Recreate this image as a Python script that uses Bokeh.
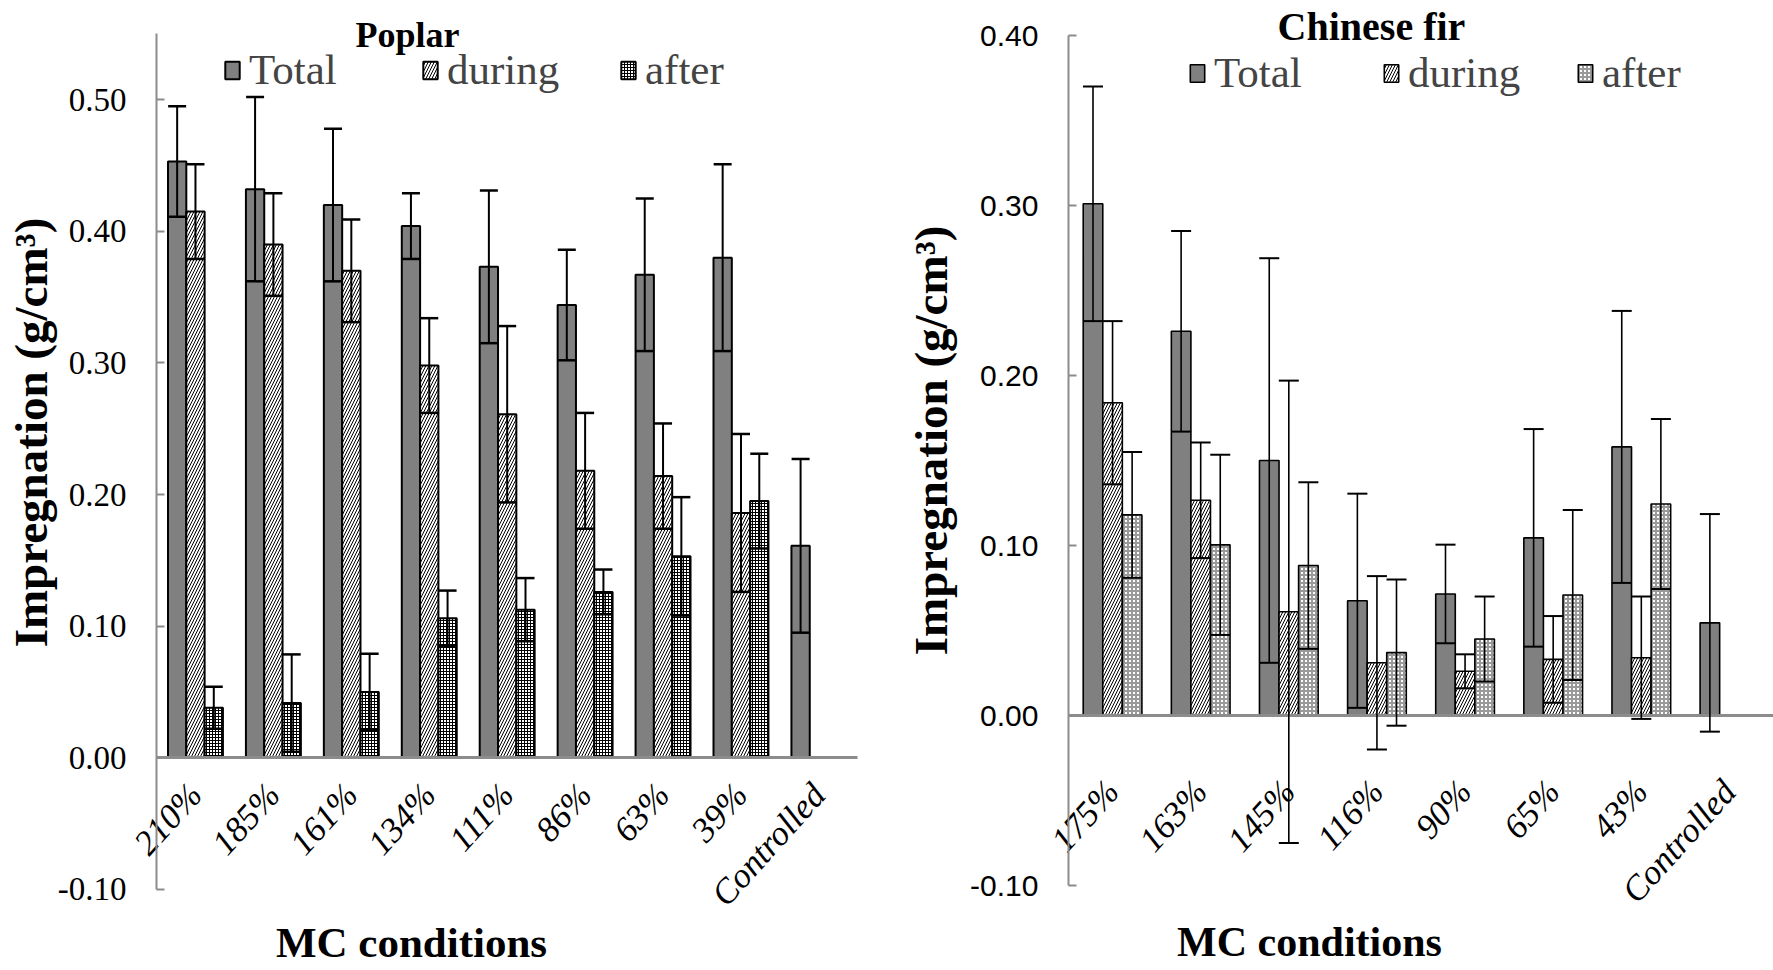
import math
from bokeh.plotting import figure
from bokeh.models import (ColumnDataSource, Range1d, Whisker, TeeHead,
                          Legend, LegendItem, Label, FixedTicker, NumeralTickFormatter)
from bokeh.transform import dodge
from bokeh.layouts import row
from bokeh.embed import file_html
from bokeh.resources import INLINE

# ---------------- data: Poplar ----------------
poplar_mc = ["210%", "185%", "161%", "134%", "111%", "86%", "63%", "39%", "Controlled"]
poplar_total = [0.453, 0.432, 0.420, 0.404, 0.373, 0.344, 0.367, 0.380, 0.161]
poplar_total_err = [0.042, 0.070, 0.058, 0.025, 0.058, 0.042, 0.058, 0.071, 0.066]
poplar_during = [0.415, 0.390, 0.370, 0.298, 0.261, 0.218, 0.214, 0.186]
poplar_during_err = [0.036, 0.039, 0.039, 0.036, 0.067, 0.044, 0.040, 0.060]
poplar_after = [0.038, 0.0415, 0.050, 0.106, 0.1125, 0.126, 0.153, 0.195]
poplar_after_err = [0.016, 0.037, 0.029, 0.021, 0.024, 0.017, 0.045, 0.036]
poplar_ticks = [-0.1, 0.0, 0.1, 0.2, 0.3, 0.4, 0.5]

# ---------------- data: Chinese fir ----------------
fir_mc = ["175%", "163%", "145%", "116%", "90%", "65%", "43%", "Controlled"]
fir_total = [0.301, 0.226, 0.150, 0.0675, 0.0715, 0.1045, 0.158, 0.0545]
fir_total_err = [0.069, 0.059, 0.119, 0.063, 0.029, 0.064, 0.080, 0.064]
fir_during = [0.184, 0.1266, 0.061, 0.031, 0.026, 0.033, 0.034]
fir_during_err = [0.048, 0.034, 0.136, 0.051, 0.010, 0.0255, 0.036]
fir_after = [0.118, 0.1004, 0.0882, 0.037, 0.045, 0.0709, 0.1244]
fir_after_err = [0.037, 0.053, 0.049, 0.043, 0.025, 0.050, 0.050]
fir_ticks = [-0.1, 0.0, 0.1, 0.2, 0.3, 0.4]

series_names = ["Total", "during", "after"]
y_title = "Impregnation (g/cm\u00b3)"
x_title = "MC conditions"

SERIF = "Liberation Serif"
AXIS_GRAY = "#8c8c8c"


def make_src(vals, errs):
    return ColumnDataSource(dict(
        x=list(range(len(vals))), v=vals,
        up=[v + e for v, e in zip(vals, errs)],
        lo=[v - e for v, e in zip(vals, errs)]))


def panel(title, cats, total, total_err, during, during_err, after, after_err, ticks, s):
    n = len(cats)
    # category i sits at x = i; the axes sit at the category band edges (-0.5 .. n-0.5)
    p = figure(x_range=Range1d(s["xmin"], s["xmax"]), y_range=Range1d(s["ymin"], s["ymax"]),
               width=s["width"], height=970, output_backend="svg", toolbar_location=None,
               min_border_left=0, min_border_right=0, min_border_top=0, min_border_bottom=0)
    p.xgrid.visible = False
    p.ygrid.visible = False
    p.outline_line_color = None
    p.background_fill_color = "white"

    w = s["bw"]
    st = make_src(total, total_err)
    sd = make_src(during, during_err)
    sa = make_src(after, after_err)

    r_t = p.vbar(x=dodge("x", -w), top="v", bottom=0, width=w, source=st,
                 fill_color="#808080", line_color="black", line_width=s["olw"])
    r_d = p.vbar(x=dodge("x", 0), top="v", bottom=0, width=w, source=sd,
                 fill_color="white", hatch_pattern="/", hatch_color="black",
                 hatch_scale=6, hatch_weight=1, line_color="black", line_width=s["olw"])
    r_a = p.vbar(x=dodge("x", w), top="v", bottom=0, width=w, source=sa,
                 fill_color="white", hatch_pattern="+", hatch_color=s["ahc"],
                 hatch_scale=s["ahs"], hatch_weight=s["ahw"], line_color="black",
                 line_width=s["olw"])

    for src, off in ((st, -w), (sd, 0), (sa, w)):
        p.add_layout(Whisker(source=src, base=dodge("x", off),
                             upper="up", lower="lo", line_color="black", line_width=s["elw"],
                             upper_head=TeeHead(size=s["cap"], line_color="black", line_width=s["clw"]),
                             lower_head=TeeHead(size=s["cap"], line_color="black", line_width=s["clw"]),
                             level="overlay"))

    # category axis drawn along y = 0, labels rotated and hanging below the zero line
    xa = p.xaxis[0]
    xa.fixed_location = 0
    xa.bounds = (-0.5, n - 0.5)
    xa.ticker = FixedTicker(ticks=list(range(n)))
    xa.major_label_overrides = {i: c for i, c in enumerate(cats)}
    xa.axis_line_color = AXIS_GRAY
    xa.axis_line_width = 3
    xa.major_tick_line_color = None
    xa.minor_tick_line_color = None
    xa.major_tick_in = 0
    xa.major_tick_out = 0
    xa.major_label_orientation = math.radians(48)
    xa.major_label_standoff = s["cy"]
    xa.major_label_text_font = SERIF
    xa.major_label_text_font_style = "italic"
    xa.major_label_text_font_size = s["cfs"]
    xa.major_label_text_color = "black"

    ax = p.yaxis[0]
    ax.fixed_location = -0.5
    ax.bounds = (ticks[0], s["ytop"])
    ax.ticker = FixedTicker(ticks=ticks)
    ax.formatter = NumeralTickFormatter(format="0.00")
    ax.axis_line_color = AXIS_GRAY
    ax.axis_line_width = 2
    ax.major_tick_line_color = AXIS_GRAY
    ax.major_tick_line_width = 2
    ax.major_tick_in = 8
    ax.major_tick_out = 0
    ax.minor_tick_line_color = None
    ax.major_label_standoff = s["tls"]
    ax.major_label_text_font = s["tfont"]
    ax.major_label_text_font_size = s["tfs"]
    ax.major_label_text_color = "black"

    p.add_layout(Label(x=s["yx"], y=s["yy"], text=y_title, angle=math.pi / 2,
                       text_align="center", text_baseline="middle", text_font=SERIF,
                       text_font_style="bold", text_font_size=s["yfs"], text_color="black"))
    p.add_layout(Label(x=s["tx"], y=s["ty"], text=title, text_align="center",
                       text_baseline="middle", text_font=SERIF, text_font_style="bold",
                       text_font_size=s["tts"], text_color="black"))
    p.add_layout(Label(x=s["xx"], y=s["xy"], text=x_title, text_align="center",
                       text_baseline="middle", text_font=SERIF, text_font_style="bold",
                       text_font_size=s["xfs"], text_color="black"))

    leg = Legend(items=[LegendItem(label=series_names[0], renderers=[r_t]),
                        LegendItem(label=series_names[1], renderers=[r_d]),
                        LegendItem(label=series_names[2], renderers=[r_a])],
                 location=(s["lx"], s["ly"]), orientation="horizontal",
                 label_text_font=SERIF, label_text_font_size="43px",
                 glyph_width=18, glyph_height=22, label_standoff=8, spacing=0,
                 label_width=s["lw"], padding=0, margin=0,
                 border_line_color=None, background_fill_alpha=0)
    p.add_layout(leg)
    return p


left_spec = dict(width=905, xmin=-2.5018, xmax=9.1112, ymin=-0.1617, ymax=0.5754, ytop=0.55,
                 bw=0.235, olw=2, ahc="black", ahs=3, ahw=1, elw=2, clw=2.5, cap=18,
                 cy=31, cfs="35px", tls=30, tfont=SERIF, tfs="33px",
                 yx=-2.11, yy=0.2471, yfs="47px",
                 tx=2.72, ty=0.5495, tts="36px",
                 xx=2.772, xy=-0.1404, xfs="43px", lx=223, ly=876, lw=172)
right_spec = dict(width=868, xmin=-2.3496, xmax=7.5, ymin=-0.15, ymax=0.4206, ytop=0.40,
                  bw=0.222, olw=1.6, ahc="#9a9a9a", ahs=4, ahw=2, elw=1.6, clw=2, cap=20,
                  cy=70, cfs="35px", tls=30, tfont="Liberation Sans", tfs="30px",
                  yx=-2.055, yy=0.1618, yfs="47px",
                  tx=2.938, ty=0.4055, tts="40px",
                  xx=2.235, xy=-0.1335, xfs="42px", lx=283, ly=873, lw=168)

p1 = panel("Poplar", poplar_mc, poplar_total, poplar_total_err, poplar_during,
           poplar_during_err, poplar_after, poplar_after_err, poplar_ticks, left_spec)
p2 = panel("Chinese fir", fir_mc, fir_total, fir_total_err, fir_during,
           fir_during_err, fir_after, fir_after_err, fir_ticks, right_spec)

layout = row(p1, p2, spacing=0)
open("out.html", "w").write(file_html(layout, INLINE))
